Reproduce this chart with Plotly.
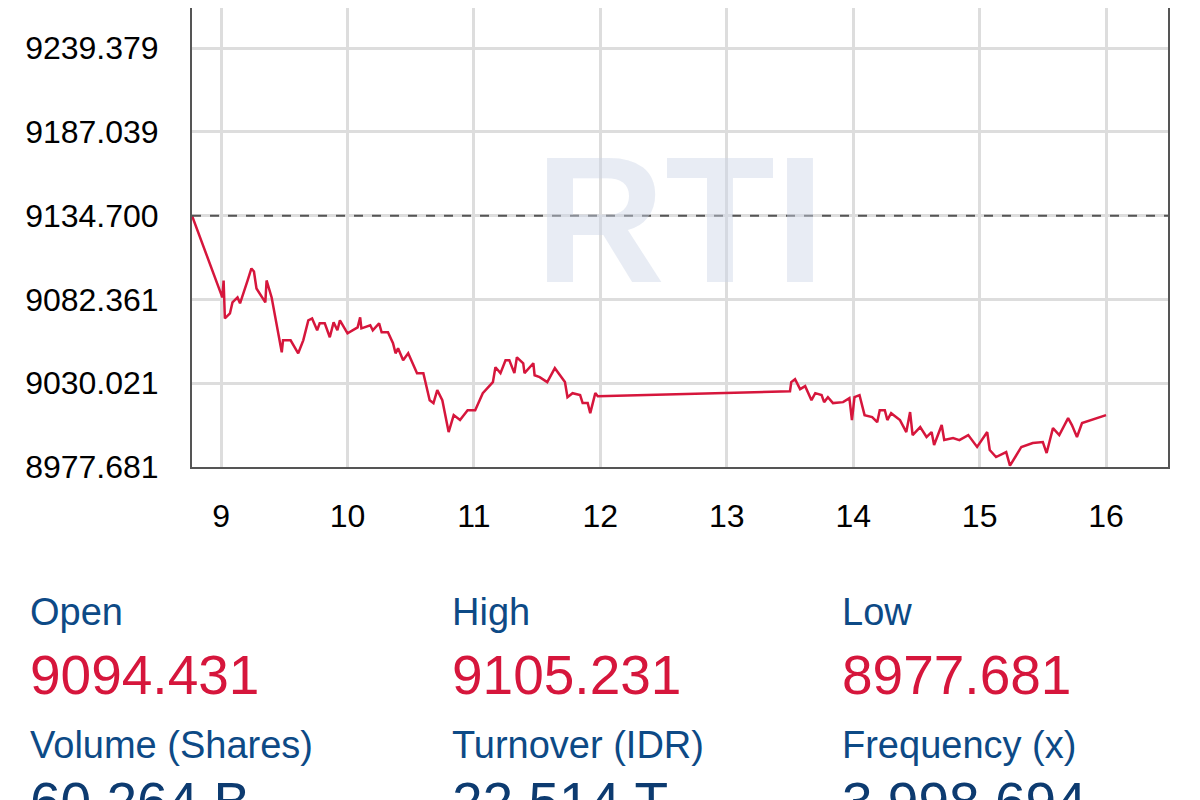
import plotly.graph_objects as go

hours = [8.77, 9.01, 9.02, 9.03, 9.07, 9.09, 9.13, 9.15, 9.21, 9.24, 9.26, 9.28, 9.35, 9.36, 9.40,
         9.48, 9.49, 9.55, 9.61, 9.65, 9.69, 9.72, 9.76, 9.78, 9.82, 9.86, 9.89, 9.92, 9.94,
         10.00, 10.08, 10.10, 10.11, 10.18, 10.20, 10.25, 10.27, 10.32, 10.36, 10.38, 10.40, 10.44,
         10.48, 10.55, 10.60, 10.65, 10.68, 10.71, 10.75, 10.80, 10.84, 10.89, 10.95,
         11.01, 11.07, 11.15, 11.17, 11.21, 11.25, 11.28, 11.32, 11.34, 11.39, 11.40, 11.47, 11.48,
         11.52, 11.58, 11.64, 11.72, 11.74, 11.78, 11.84, 11.86, 11.90, 11.92, 11.96, 11.98,
         13.50, 13.51, 13.54, 13.58, 13.62, 13.67, 13.70, 13.75, 13.77, 13.80, 13.84, 13.92, 13.97, 13.99,
         14.01, 14.05, 14.09, 14.15, 14.19, 14.21, 14.25, 14.27, 14.30, 14.37, 14.42, 14.45, 14.47,
         14.53, 14.58, 14.62, 14.64, 14.70, 14.72, 14.79, 14.84, 14.91, 14.98,
         15.06, 15.08, 15.13, 15.21, 15.24, 15.33, 15.42, 15.50, 15.53, 15.58, 15.63, 15.70, 15.73,
         15.77, 15.81, 16.00]
prices = [9134.7, 9083.6, 9094.2, 9070.5, 9073.6, 9080.5, 9083.6, 9079.9, 9094.2, 9101.7, 9099.8, 9089.2, 9080.5, 9094.2, 9083.6,
          9049.3, 9056.8, 9056.8, 9048.7, 9056.8, 9069.3, 9070.5, 9063.1, 9067.4, 9067.4, 9058.7, 9068.0, 9063.1, 9069.3,
          9061.2, 9064.9, 9071.2, 9064.3, 9066.2, 9063.1, 9067.4, 9061.8, 9061.8, 9055.0, 9048.7, 9051.8, 9044.4,
          9048.7, 9036.3, 9036.3, 9019.4, 9017.6, 9025.7, 9019.4, 8999.5, 9010.1, 9007.0, 9013.2,
          9013.2, 9023.8, 9030.7, 9040.0, 9036.3, 9044.4, 9044.4, 9036.3, 9046.2, 9042.5, 9036.3, 9042.5, 9035.0,
          9033.8, 9030.7, 9039.4, 9030.7, 9021.3, 9023.8, 9022.6, 9017.6, 9017.6, 9011.3, 9023.8, 9021.9,
          9025.0, 9030.7, 9032.5, 9026.3, 9028.2, 9019.4, 9023.8, 9022.6, 9018.2, 9021.3, 9017.6, 9018.2, 9020.7, 9007.0,
          9021.3, 9022.6, 9010.1, 9008.9, 9005.7, 9013.2, 9013.2, 9007.0, 9011.3, 9007.0, 8999.5, 9012.0, 8997.6,
          9002.6, 8996.4, 8999.5, 8991.4, 9003.9, 8994.5, 8995.8, 8994.5, 8997.6, 8990.2,
          8999.5, 8988.3, 8983.9, 8987.0, 8978.5, 8990.2, 8992.7, 8993.3, 8986.4, 9002.0, 8997.6, 9008.2, 9003.9,
          8996.4, 9005.1, 9010.1]

prev_close = 9134.700
y_ticks = [8977.681, 9030.021, 9082.361, 9134.700, 9187.039, 9239.379]
x_ticks = [9, 10, 11, 12, 13, 14, 15, 16]

stat_labels = ["Open", "High", "Low", "Volume (Shares)", "Turnover (IDR)", "Frequency (x)"]
stat_values = ["9094.431", "9105.231", "8977.681", "60.264 B", "22.514 T", "3,998,694"]

FONT = "Liberation Sans, Arial, sans-serif"
fig = go.Figure()
fig.add_trace(go.Scatter(x=hours, y=prices, mode="lines",
                         line=dict(color="#d6163c", width=2.5), hoverinfo="skip"))
fig.add_shape(type="line", xref="paper", x0=0, x1=1, yref="y", y0=prev_close, y1=prev_close,
              line=dict(color="#555555", width=2, dash="dash"))

fig.add_annotation(text="<b>RTI</b>", xref="paper", yref="paper", x=0.5, y=0.54,
                   showarrow=False, font=dict(family=FONT, size=180, color="rgba(205,212,230,0.45)"))

cols = [28, 450, 840]
for i, (lab, val) in enumerate(zip(stat_labels, stat_values)):
    xp = (cols[i % 3] - 192) / 976
    row = i // 3
    ylab = -0.3159 if row == 0 else -0.6057
    yval = -0.4532 if row == 0 else -0.730
    vcol = "#d6163c" if row == 0 else "#0d3b70"
    fig.add_annotation(text=lab, xref="paper", yref="paper", x=xp, y=ylab, xanchor="left",
                       yanchor="middle", showarrow=False, font=dict(family=FONT, size=38, color="#0d4a86"))
    fig.add_annotation(text=val, xref="paper", yref="paper", x=xp, y=yval, xanchor="left",
                       yanchor="middle", showarrow=False, font=dict(family=FONT, size=55, color=vcol))

fig.update_layout(
    width=1200, height=800, margin=dict(l=184, r=40, t=0, b=341),
    paper_bgcolor="white", plot_bgcolor="white", showlegend=False,
    font=dict(family=FONT, color="black"),
    xaxis=dict(range=[8.77, 16.49], tickvals=x_ticks, ticktext=[str(v) for v in x_ticks],
               showgrid=True, gridcolor="#dddddd", gridwidth=3, zeroline=False,
               showline=True, linecolor="#555555", linewidth=2,
               tickfont=dict(size=32), ticks="", ticklabelstandoff=20),
    yaxis=dict(range=[8977.681, 9264.4], tickvals=y_ticks, ticktext=[f"{v:.3f}" for v in y_ticks],
               showgrid=True, gridcolor="#dddddd", gridwidth=3, zeroline=False,
               showline=True, linecolor="#555555", linewidth=2, mirror=True,
               tickfont=dict(size=32), ticks="", ticklabelstandoff=25),
)
fig.write_html("out.html")
